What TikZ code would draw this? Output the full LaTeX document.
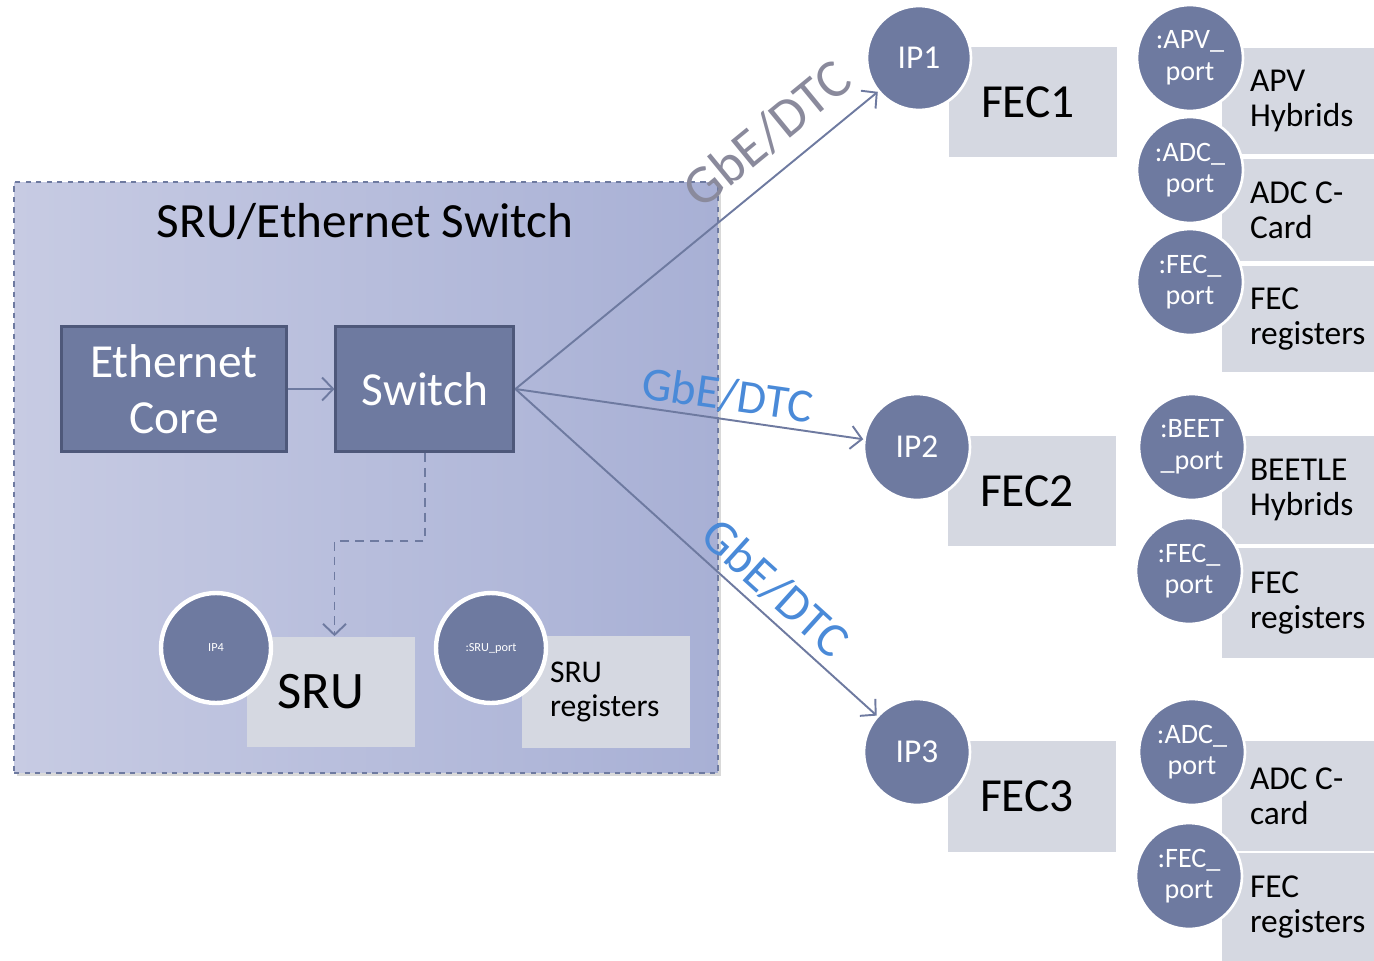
\documentclass[tikz,border=0pt]{standalone}
\usepackage{fontspec}
\setmainfont{Carlito}
\usetikzlibrary{shadows, arrows.meta, positioning}
\definecolor{portblue}{HTML}{6E7AA0}
\definecolor{coreedge}{HTML}{4E587A}
\definecolor{boxgray}{HTML}{D5D8E1}
\definecolor{framel}{HTML}{C7CBE3}
\definecolor{framer}{HTML}{A8B0D5}
\definecolor{labelblue}{HTML}{4A8AD8}
\definecolor{labelgray}{HTML}{8A8A9C}
\tikzstyle{link} = [draw=portblue, line width=1.1pt, -{Straight Barb[length=2.2mm, width=4.6mm]}]
\tikzstyle{linklabel} = [sloped, font=\fontsize{27}{30}\selectfont]

\begin{document}
\begin{tikzpicture}[x=0.02cm, y=-0.02cm,
		sruframe/.style={
			draw=portblue,
			dashed,
			line width=0.7pt,
			left color=framel,
			right color=framer,
			drop shadow={opacity=0.3, shadow xshift=1.5pt, shadow yshift=-1.5pt},
			minimum width=14.08cm,
			minimum height=11.82cm},
		core/.style={
			draw=coreedge,
			line width=1.7pt,
			fill=portblue,
			rectangle,
			text=white,
			minimum height=2.5cm,
			align=center,
			font=\fontsize{27}{32}\selectfont},
		ipnode/.style={
			circle,
			fill=portblue,
			draw=white,
			line width=1.5pt,
			text=white,
			inner sep=0pt,
			minimum size=2.12cm,
			align=center,
			font=\fontsize{16}{18}\selectfont},
		fecbox/.style={
			rectangle,
			fill=boxgray,
			minimum width=3.36cm,
			minimum height=2.22cm,
			font=\fontsize{27}{30}\selectfont},
		regbox/.style={
			rectangle,
			fill=boxgray,
			minimum width=3.04cm},
		regtext/.style={
			anchor=west,
			xshift=0.56cm,
			inner sep=0pt,
			align=left,
			font=\fontsize{19}{20}\selectfont}]
		\useasboundingbox (0,0) rectangle (1374,961);

		\node (frame) [sruframe] at (366,477.5) {};
		\node (title) at (365,221) [font=\fontsize{28}{30}\selectfont] {SRU/Ethernet Switch};
		\node (eth) [core, minimum width=4.52cm] at (174,389) {Ethernet\\Core};
		\node (sw) [core, right=0.92cm of eth, minimum width=3.56cm] {Switch};
		\node (sru) [fecbox, font=\fontsize{30}{32}\selectfont] at (331,692) {SRU\hspace*{0.4cm}};
		\node (srureg) [regbox, minimum width=3.36cm, minimum height=2.24cm,
			label={[regtext, font=\fontsize{18}{19}\selectfont]west:SRU\\registers}] at (606,692) {};
		\node (ip4) [ipnode, line width=2.5pt, minimum size=2.2cm, font=\fontsize{7}{8}\selectfont] at (216,648) {IP4};
		\node (sruport) [ipnode, line width=2.5pt, minimum size=2.2cm, font=\fontsize{7}{8}\selectfont] at (491,648) {:SRU\_port};

		\draw [link] (eth) -- (sw);
		\draw [link, dashed, dash pattern=on 5pt off 3.5pt] (sw.south) -- ++(0,88) -| ([xshift=2pt]sru.north);

		% front end cards
		\node (fec1) [fecbox] at (1033,102) {FEC1\hspace*{0.2cm}};
		\node (fec2) [fecbox] at (1032,491) {FEC2\hspace*{0.2cm}};
		\node (fec3) [fecbox] at (1032,796) {FEC3\hspace*{0.2cm}};

		\node (apv) [regbox, minimum height=2.12cm, label={[regtext]west:APV\\Hybrids}] at (1298,101) {};
		\node (adc1) [regbox, minimum height=2.04cm, label={[regtext]west:ADC C-\\Card}] at (1298,210) {};
		\node (reg1) [regbox, minimum height=2.12cm, label={[regtext]west:FEC\\registers}] at (1298,319) {};
		\node (beetle) [regbox, minimum height=2.16cm, label={[regtext]west:BEETLE\\Hybrids}] at (1298,490) {};
		\node (reg2) [regbox, minimum height=2.2cm, label={[regtext]west:FEC\\registers}] at (1298,603) {};
		\node (adc3) [regbox, minimum height=2.2cm, label={[regtext]west:ADC C-\\card}] at (1298,796) {};
		\node (reg3) [regbox, minimum height=2.16cm, label={[regtext]west:FEC\\registers}] at (1298,907) {};

		\node (ip1) [ipnode, minimum size=2.08cm, font=\fontsize{19}{20}\selectfont] at (919,58) {IP1};
		\node (ip2) [ipnode, font=\fontsize{19}{20}\selectfont] at (917,447) {IP2};
		\node (ip3) [ipnode, font=\fontsize{19}{20}\selectfont] at (917,752) {IP3};

		\node (apvport) [ipnode] at (1190,58) {:APV\_\\port};
		\node (adcport1) [ipnode] at (1190,170) {:ADC\_\\port};
		\node (fecport1) [ipnode] at (1190,282) {:FEC\_\\port};
		\node (beetport) [ipnode] at (1192,447) {:BEET\\\_port};
		\node (fecport2) [ipnode] at (1189,571) {:FEC\_\\port};
		\node (adcport3) [ipnode] at (1192,752) {:ADC\_\\port};
		\node (fecport3) [ipnode] at (1189,876) {:FEC\_\\port};

		\draw [link] (sw.east) -- (ip1) node [linklabel, pos=0.76, above=6pt, text=labelgray, font=\fontsize{31}{33}\selectfont] {GbE/DTC};
		\draw [link] (sw.east) -- (ip2) node [linklabel, pos=0.6, above=0pt, text=labelblue] {GbE/DTC};
		\draw [link] (sw.east) -- (ip3) node [linklabel, pos=0.67, above=1pt, text=labelblue, font=\fontsize{28}{30}\selectfont] {GbE/DTC};

	\end{tikzpicture}
\end{document}
